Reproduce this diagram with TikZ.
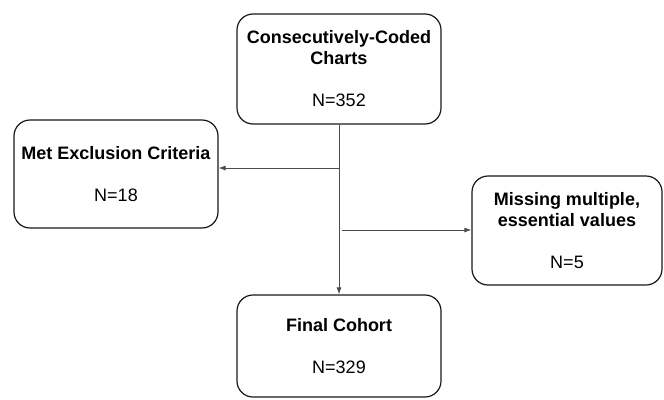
\documentclass[tikz,border=0pt]{standalone}
\usepackage{fontspec}
\setmainfont{Liberation Sans}
\usetikzlibrary{arrows.meta}
\tikzset{
  flowbox/.style={draw=black!90, line width=1.2pt, rounded corners=16pt, align=center,
    inner sep=0pt, font=\fontsize{18}{21}\selectfont},
  flowline/.style={draw=black!70, line width=0.8pt},
  flowarrow/.style={flowline, -{Latex[length=7pt,width=5pt]}}
}
\begin{document}
\begin{tikzpicture}[x=1pt,y=-1pt]
\useasboundingbox (0,0) rectangle (664,399);
\node[flowbox, minimum width=204pt, minimum height=110pt] (charts) at (339,69){\textbf{Consecutively-Coded}\\\textbf{Charts}\\[21pt]N=352};
\node[flowbox, minimum width=204pt, minimum height=108pt] (excl) at (116,174){\textbf{Met Exclusion Criteria}\\[21pt]N=18};
\node[flowbox, minimum width=190pt, minimum height=109pt] (missing) at (567,230.5){\textbf{Missing multiple,}\\\textbf{essential values}\\[21pt]N=5};
\node[flowbox, minimum width=204pt, minimum height=102pt] (final) at (339,346){\textbf{Final Cohort}\\[21pt]N=329};
\coordinate (jexcl) at (339,168);
\coordinate (jmiss) at (342,230);
\draw[flowarrow](charts) -- (final);
\draw[flowarrow](jexcl) -- (jexcl -| excl.east);
\draw[flowarrow](jmiss) -- (jmiss -| missing.west);
\end{tikzpicture}
\end{document}
